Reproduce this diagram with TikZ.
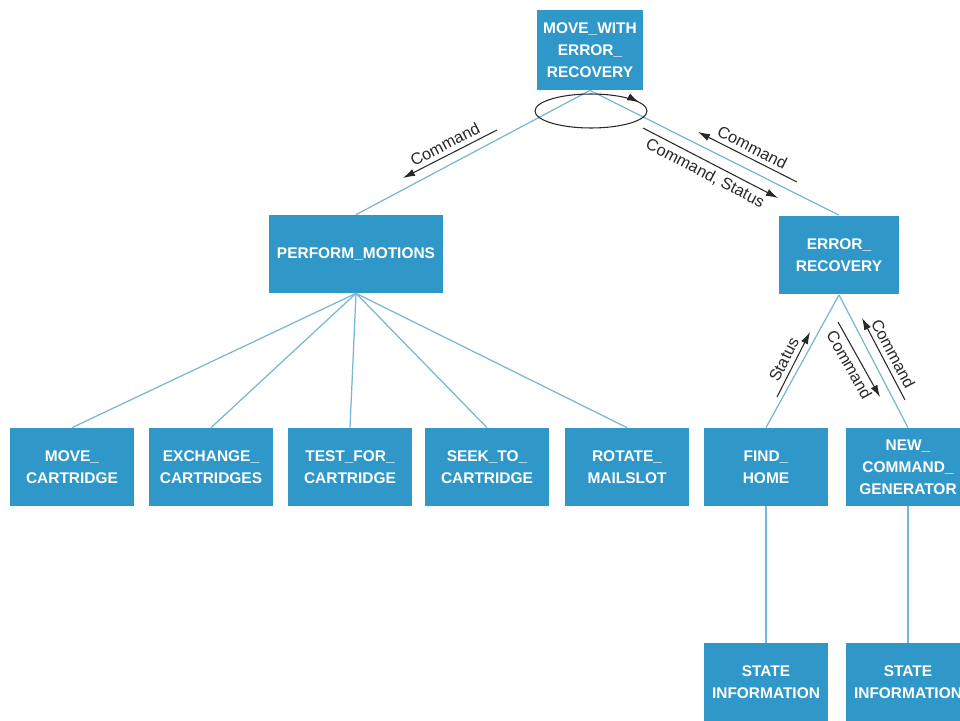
\documentclass[tikz,border=0pt]{standalone}
\usepackage{fontspec}
\setmainfont{Liberation Sans}
\usetikzlibrary{arrows.meta, decorations.markings, positioning}
\definecolor{boxBlue}{RGB}{48,152,200}
\definecolor{linkBlue}{RGB}{120,182,214}
\definecolor{arrowGray}{RGB}{40,40,40}
\tikzset{
    modBox/.style={rectangle, fill=boxBlue, text=white, font=\fontsize{8.8}{12.5}\selectfont\bfseries, align=center, inner sep=1pt, minimum width=2.48cm, minimum height=1.56cm},
    modLink/.style={draw=linkBlue, line width=0.7pt},
    flowArrow/.style={draw=arrowGray, line width=0.6pt, >={Latex[length=2.4mm, width=1.5mm]}},
    flowLabel/.style={font=\fontsize{9.3}{11}\selectfont, text=arrowGray, inner sep=2.5pt},
    loopMark/.style={draw=arrowGray, line width=0.6pt, postaction={decorate}, decoration={markings, mark=at position 0.95 with {\arrow{Latex[length=2.4mm, width=1.5mm]}}}},
}
\newcommand{\drawLink}[2]{
    \draw[modLink] (#1) -- (#2);
}
\newcommand{\drawFlow}[5][->]{
    \draw[flowArrow, #1] (#2) -- node[#5, sloped, flowLabel] {#4} (#3);
}

\begin{document}
\begin{tikzpicture}[x=0.02cm, y=-0.02cm]

        \clip (0,0) rectangle (960,720);
        \fill[white] (0,0) rectangle (960,720);

        \node[modBox, minimum width=2.12cm, minimum height=1.6cm] (top) at (590,50) {MOVE\_WITH\\ERROR\_\\RECOVERY};
        \node[modBox, minimum width=3.5cm] (perform) at (356,254) {PERFORM\_MOTIONS};
        \node[modBox, minimum width=2.4cm, minimum height=1.58cm] (error) at (839,255) {ERROR\_\\RECOVERY};

        \node[modBox] (moveCart) at (72,467) {MOVE\_\\CARTRIDGE};
        \node[modBox] (exchange) at (211,467) {EXCHANGE\_\\CARTRIDGES};
        \node[modBox] (testFor) at (350,467) {TEST\_FOR\_\\CARTRIDGE};
        \node[modBox] (seekTo) at (487,467) {SEEK\_TO\_\\CARTRIDGE};
        \node[modBox] (rotate) at (627,467) {ROTATE\_\\MAILSLOT};
        \node[modBox] (findHome) at (766,467) {FIND\_\\HOME};
        \node[modBox] (newCmd) at (908,467) {NEW\_\\COMMAND\_\\GENERATOR};

        \node[modBox] (stateA) at (766,682) {STATE\\INFORMATION};
        \node[modBox] (stateB) at (908,682) {STATE\\INFORMATION};

        \drawLink{top.south}{perform.north}
        \drawLink{top.south}{error.north}
        \drawLink{perform.south}{moveCart.north}
        \drawLink{perform.south}{exchange.north}
        \drawLink{perform.south}{testFor.north}
        \drawLink{perform.south}{seekTo.north}
        \drawLink{perform.south}{rotate.north}
        \drawLink{error.south}{findHome.north}
        \drawLink{error.south}{newCmd.north}
        \drawLink{findHome}{stateA}
        \drawLink{newCmd}{stateB}

        \draw[loopMark] (591,111) ellipse [x radius=56, y radius=17];

        \coordinate (c1a) at (403,178);
        \coordinate (c1b) at (497,130);
        \coordinate (c2a) at (698,132);
        \coordinate (c2b) at (797,182);
        \coordinate (c3a) at (643,128);
        \coordinate (c3b) at (778,198);
        \coordinate (s1a) at (777,397);
        \coordinate (s1b) at (810,332);
        \coordinate (c4a) at (838,322);
        \coordinate (c4b) at (880,397);
        \coordinate (c5a) at (862,318);
        \coordinate (c5b) at (905,400);

        \drawFlow[<-]{c1a}{c1b}{Command}{above}
        \drawFlow[<-]{c2a}{c2b}{Command}{above}
        \drawFlow{c3a}{c3b}{Command, Status}{below}
        \drawFlow{s1a}{s1b}{Status}{above}
        \drawFlow{c4a}{c4b}{Command}{below}
        \drawFlow[<-]{c5a}{c5b}{Command}{above}

    \end{tikzpicture}
\end{document}
